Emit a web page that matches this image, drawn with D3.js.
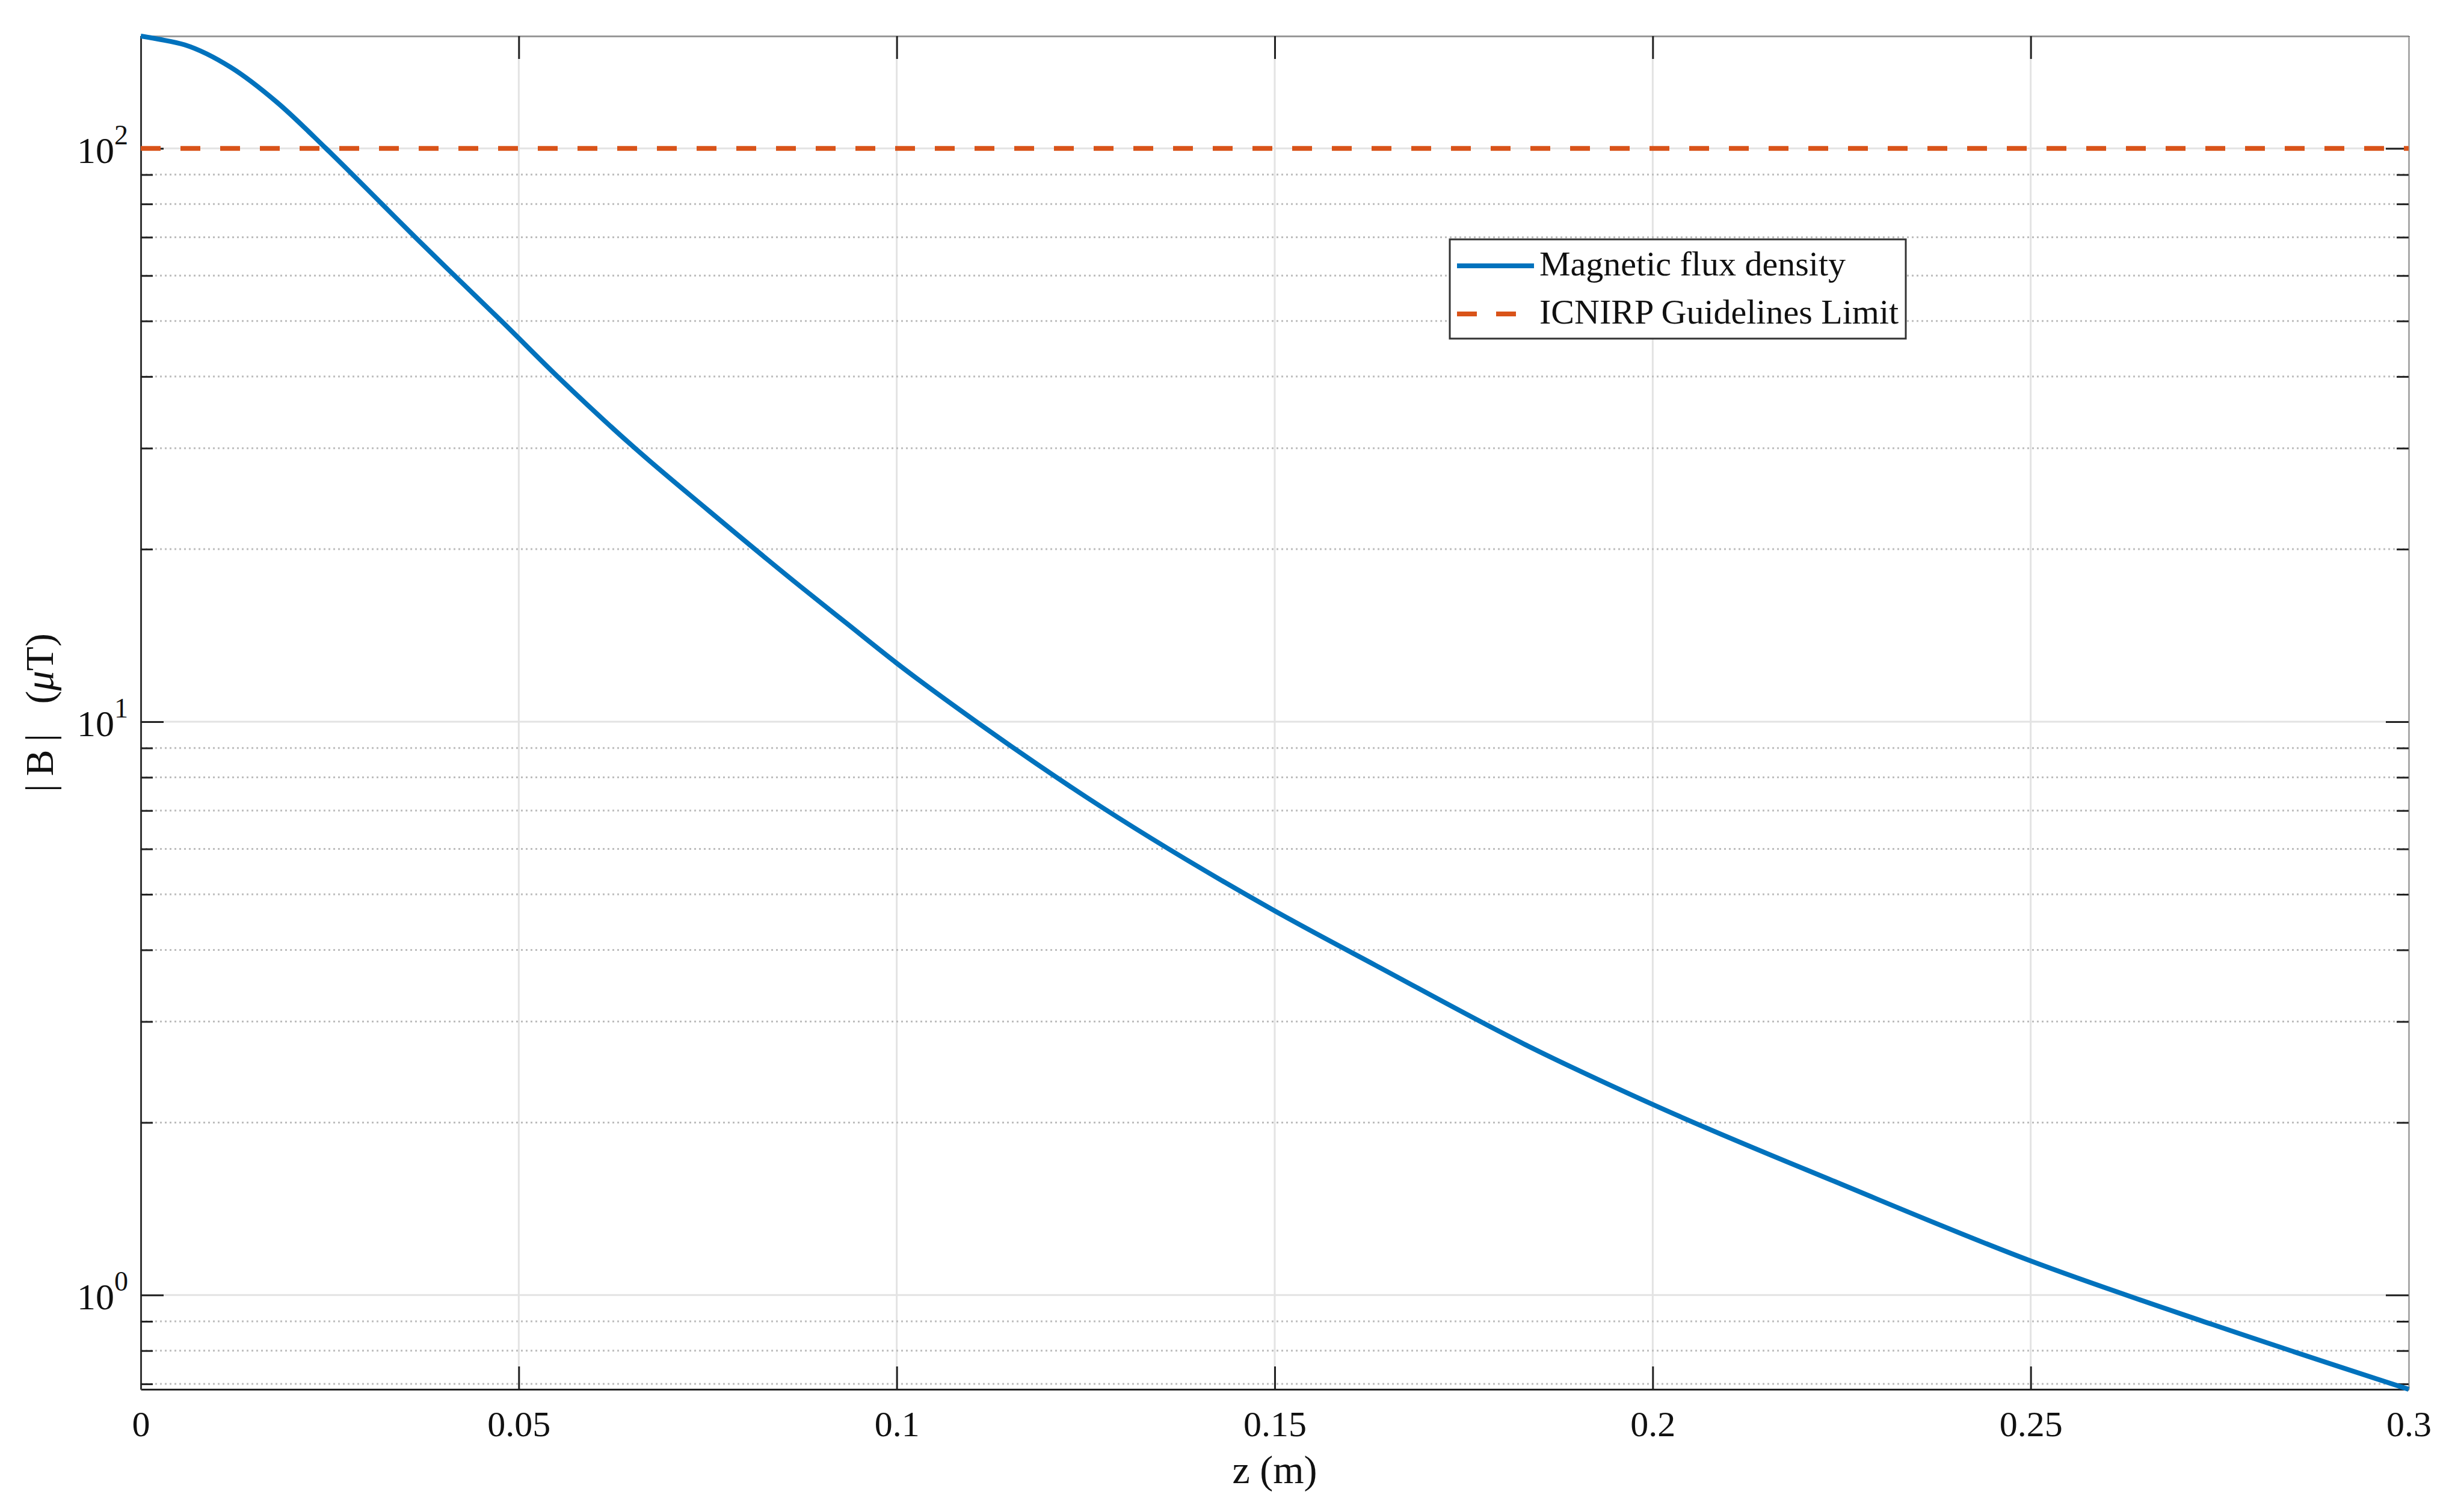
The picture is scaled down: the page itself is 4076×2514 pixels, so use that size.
<!DOCTYPE html>
<html>
<head>
<meta charset="utf-8">
<title>Magnetic flux density along z</title>
<style>
  body { margin: 0; background: #fff; }
  svg text { font-family: "Liberation Serif", "Times New Roman", serif; fill: #111; }
</style>
</head>
<body>
<svg id="chart" width="4076" height="2514"></svg>
<script src="https://cdn.jsdelivr.net/npm/d3@7"></script>
<script>

// distance z (m)
var zValues = [0, 0.0023, 0.0058, 0.0119, 0.018, 0.0245, 0.0319, 0.0363, 0.0415, 0.0477, 0.0553,
               0.065, 0.0752, 0.0874, 0.0935, 0.1, 0.111, 0.125, 0.15, 0.164, 0.183, 0.2, 0.225,
               0.25, 0.274, 0.3];
// |B| (microtesla) at those z
var bValues = [157, 155.1, 151.6, 138.5, 120.4, 100, 80, 70, 60, 50, 39.8,
               30.3, 23.3, 17.16, 14.8, 12.65, 9.9, 7.4, 4.68, 3.72, 2.74, 2.15, 1.56,
               1.147, 0.889, 0.685];
var limitValue = 100;   // ICNIRP limit, uT

var xTicks = [0, 0.05, 0.1, 0.15, 0.2, 0.25, 0.3];
var xTickLabels = ["0", "0.05", "0.1", "0.15", "0.2", "0.25", "0.3"];
var yMajorTicks = [1, 10, 100];
var yExponents = ["0", "1", "2"];
var seriesNames = ["Magnetic flux density", "ICNIRP Guidelines Limit"];

var blue = "#0072BD", orange = "#D95319";

var svg = d3.select("#chart");
var pLeft = 234, pRight = 4004, pTop = 60, pBottom = 2310;

var data = zValues.map(function(z, i) { return { z: z, b: bValues[i] }; });

var x = d3.scaleLinear().domain([0, 0.3]).range([pLeft, pRight]);
var y = d3.scaleLog().domain(d3.extent(bValues)).range([pBottom, pTop]);

// minor ticks 2..9 per decade inside the axis range
var yMinorTicks = y.ticks().filter(function(v) {
  return yMajorTicks.indexOf(v) < 0 && v >= y.domain()[0] && v <= y.domain()[1];
});

var grid = svg.append("g");

// vertical grid
grid.selectAll("line.vx")
  .data(xTicks.slice(1, -1))
  .enter().append("line")
    .attr("x1", function(d) { return x(d); })
    .attr("x2", function(d) { return x(d); })
    .attr("y1", pTop).attr("y2", pBottom)
    .attr("stroke", "#e3e3e3").attr("stroke-width", 3);

// minor horizontal grid (dotted)
grid.selectAll("line.hmin")
  .data(yMinorTicks)
  .enter().append("line")
    .attr("x1", pLeft).attr("x2", pRight)
    .attr("y1", function(d) { return y(d); })
    .attr("y2", function(d) { return y(d); })
    .attr("stroke", "#bdbdbd").attr("stroke-width", 3)
    .attr("stroke-dasharray", "3,5");

// major horizontal grid
grid.selectAll("line.hmaj")
  .data(yMajorTicks)
  .enter().append("line")
    .attr("x1", pLeft).attr("x2", pRight)
    .attr("y1", function(d) { return y(d); })
    .attr("y2", function(d) { return y(d); })
    .attr("stroke", "#e3e3e3").attr("stroke-width", 3);

// axes, ticks pointing inwards
function styleAxis(g, color) {
  g.selectAll("path.domain").attr("stroke", color).attr("stroke-width", 3);
  g.selectAll(".tick line").attr("stroke", "#222").attr("stroke-width", 3);
}

var xb = svg.append("g")
    .attr("transform", "translate(0," + pBottom + ")")
    .call(d3.axisBottom(x).tickValues(xTicks).tickSizeInner(-38).tickSizeOuter(0)
      .tickPadding(78).tickFormat(function(d, i) { return xTickLabels[i]; }));
styleAxis(xb, "#222");
xb.selectAll("text").attr("font-size", 60).attr("fill", "#111").attr("dy", 0);

var xt = svg.append("g")
    .attr("transform", "translate(0," + pTop + ")")
    .call(d3.axisTop(x).tickValues(xTicks).tickSizeInner(-38).tickSizeOuter(0).tickFormat(""));
styleAxis(xt, "#999");

var yl = svg.append("g")
    .attr("transform", "translate(" + pLeft + ",0)")
    .call(d3.axisLeft(y).tickValues(yMajorTicks).tickSizeInner(-38).tickSizeOuter(0).tickFormat(""));
styleAxis(yl, "#333");
svg.append("g")
    .attr("transform", "translate(" + pLeft + ",0)")
    .call(d3.axisLeft(y).tickValues(yMinorTicks).tickSizeInner(-20).tickSizeOuter(0).tickFormat(""))
    .call(function(g) { g.select(".domain").remove(); g.selectAll(".tick line").attr("stroke", "#222").attr("stroke-width", 3); });

var yr = svg.append("g")
    .attr("transform", "translate(" + pRight + ",0)")
    .call(d3.axisRight(y).tickValues(yMajorTicks).tickSizeInner(-38).tickSizeOuter(0).tickFormat(""));
styleAxis(yr, "#aaa");
svg.append("g")
    .attr("transform", "translate(" + pRight + ",0)")
    .call(d3.axisRight(y).tickValues(yMinorTicks).tickSizeInner(-20).tickSizeOuter(0).tickFormat(""))
    .call(function(g) { g.select(".domain").remove(); g.selectAll(".tick line").attr("stroke", "#222").attr("stroke-width", 3); });

// y tick labels 10^n
yMajorTicks.forEach(function(v, i) {
  var t = svg.append("text")
      .attr("x", pLeft - 21)
      .attr("y", y(v) + 24)
      .attr("text-anchor", "end")
      .attr("font-size", 62);
  t.append("tspan").text("10");
  t.append("tspan").attr("dy", -31).attr("font-size", 46).text(yExponents[i]);
});

// curve and limit
var line = d3.line()
    .x(function(d) { return x(d.z); })
    .y(function(d) { return y(d.b); })
    .curve(d3.curveMonotoneX);

svg.append("path")
    .datum(data)
    .attr("fill", "none")
    .attr("stroke", blue)
    .attr("stroke-width", 8)
    .attr("d", line);

svg.append("line")
    .attr("x1", x(0)).attr("x2", x(0.3))
    .attr("y1", y(limitValue)).attr("y2", y(limitValue))
    .attr("stroke", orange)
    .attr("stroke-width", 8)
    .attr("stroke-dasharray", "33,33");

// axis labels
svg.append("text")
    .attr("x", (pLeft + pRight) / 2)
    .attr("y", 2466)
    .attr("text-anchor", "middle")
    .attr("font-size", 66)
    .text("z (m)");

var ylab = svg.append("text")
    .attr("transform", "translate(88," + (pTop + pBottom) / 2 + ") rotate(-90)")
    .attr("text-anchor", "middle")
    .attr("font-size", 66);
ylab.append("tspan").text("|\u2009B\u2009|\u00a0\u00a0\u00a0(");
ylab.append("tspan").attr("font-style", "italic").text("\u03bc");
ylab.append("tspan").text("T)");

// legend
var lg = svg.append("g");
lg.append("rect")
    .attr("x", 2410).attr("y", 398)
    .attr("width", 758).attr("height", 165)
    .attr("fill", "#fff")
    .attr("stroke", "#333")
    .attr("stroke-width", 3);

var legendRows = [
  { name: seriesNames[0], color: blue, dash: null, y: 442 },
  { name: seriesNames[1], color: orange, dash: "33,32", y: 522 }
];
legendRows.forEach(function(r) {
  lg.append("line")
      .attr("x1", 2422).attr("x2", 2550)
      .attr("y1", r.y).attr("y2", r.y)
      .attr("stroke", r.color)
      .attr("stroke-width", 8)
      .attr("stroke-dasharray", r.dash);
  lg.append("text")
      .attr("x", 2559)
      .attr("y", r.y + 16)
      .attr("font-size", 58)
      .text(r.name);
});
</script>
</body>
</html>
